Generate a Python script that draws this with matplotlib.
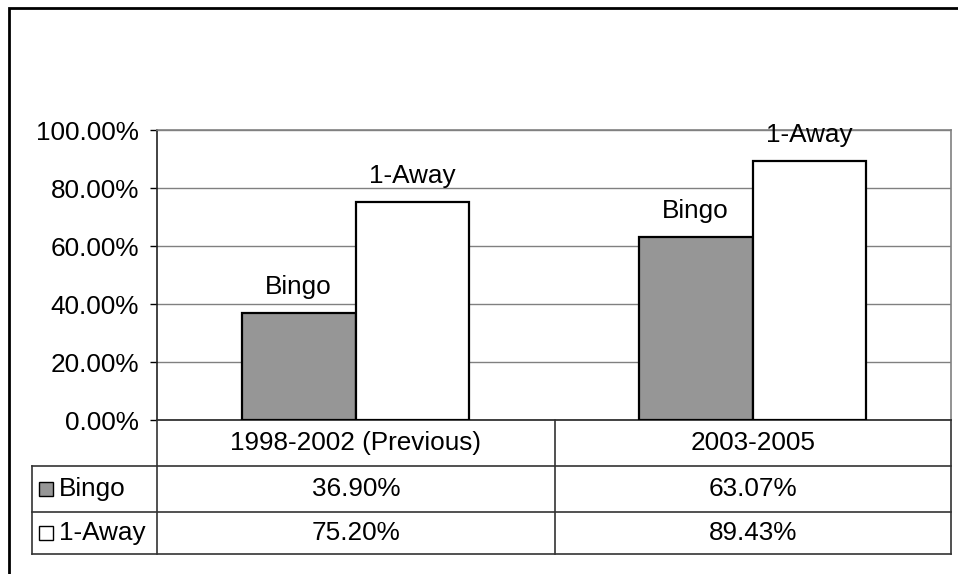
import numpy as np
import matplotlib.pyplot as plt
from matplotlib.patches import Rectangle
from matplotlib.ticker import FuncFormatter

plt.rcParams['font.family'] = ['Liberation Sans', 'DejaVu Sans']

periods = ['1998-2002 (Previous)', '2003-2005']
series = ['Bingo', '1-Away']
bingo = [36.90, 63.07]
one_away = [75.20, 89.43]
colors = ['#969696', '#ffffff']

W, H = 958, 574
fig = plt.figure(figsize=(W / 100, H / 100), dpi=100)

# plot area in pixel units
left, right, top, bottom = 157, 951, 130, 420
ax = fig.add_axes([left / W, 1 - bottom / H, (right - left) / W, (bottom - top) / H])

fs = 18.8
x = np.arange(len(periods))
w = 0.287
for vals, name, col, off in [(bingo, series[0], colors[0], -w / 2),
                             (one_away, series[1], colors[1], w / 2)]:
    bars = ax.bar(x + off, vals, w, color=col, edgecolor='black', linewidth=1.6, zorder=3)
    for b in bars:
        ax.annotate(name, (b.get_x() + b.get_width() / 2, b.get_height()),
                    xytext=(0, 13.5), textcoords='offset points',
                    ha='center', va='baseline', fontsize=fs, zorder=4)

ax.set_xlim(-0.5, len(periods) - 0.5)
ax.set_ylim(0, 100)
ax.set_yticks(np.arange(0, 101, 20))
ax.yaxis.set_major_formatter(FuncFormatter(lambda v, p: f'{v:.2f}%'))
ax.tick_params(axis='y', direction='out', length=5, width=1, labelsize=fs, pad=8, colors='black')
ax.set_xticks([])
ax.grid(axis='y', color='#808080', linewidth=1, zorder=0)
ax.set_axisbelow(True)
for s in ['top', 'right']:
    ax.spines[s].set_color('#808080')
ax.spines['left'].set_color('#222222')
ax.spines['bottom'].set_color('#222222')
for s in ax.spines.values():
    s.set_linewidth(1.2)

# data table under the axis
rows = [420, 466, 512, 554]
tab_left = 32
col_edges = [left, 555, right]


def fx(px):
    return px / W


def fy(py):
    return 1 - py / H


lc = '#333333'
lw = 1.2
for r in rows[1:]:
    fig.add_artist(plt.Line2D([fx(tab_left), fx(right)], [fy(r), fy(r)], color=lc, lw=lw))
fig.add_artist(plt.Line2D([fx(tab_left), fx(tab_left)], [fy(rows[1]), fy(rows[3])], color=lc, lw=lw))
for c in col_edges:
    fig.add_artist(plt.Line2D([fx(c), fx(c)], [fy(rows[0]), fy(rows[3])], color=lc, lw=lw))

for i, p in enumerate(periods):
    cx = (col_edges[i] + col_edges[i + 1]) / 2
    fig.text(fx(cx), fy((rows[0] + rows[1]) / 2), p, ha='center', va='center', fontsize=fs)
    for j, vals in enumerate([bingo, one_away]):
        fig.text(fx(cx), fy((rows[j + 1] + rows[j + 2]) / 2), f'{vals[i]:.2f}%',
                 ha='center', va='center', fontsize=fs)

for j, name in enumerate(series):
    cy = (rows[j + 1] + rows[j + 2]) / 2
    fig.add_artist(Rectangle((fx(39), fy(cy + 7)), 14 / W, 14 / H, transform=fig.transFigure,
                             facecolor=colors[j], edgecolor='black', lw=1))
    fig.text(fx(59), fy(cy), name, ha='left', va='center', fontsize=fs)

# chart area border
fig.add_artist(Rectangle((fx(9), fy(H + 20)), (W + 20) / W, (H + 12) / H, transform=fig.transFigure,
                         facecolor='none', edgecolor='black', lw=2))

fig.savefig('out.png', dpi=100)
